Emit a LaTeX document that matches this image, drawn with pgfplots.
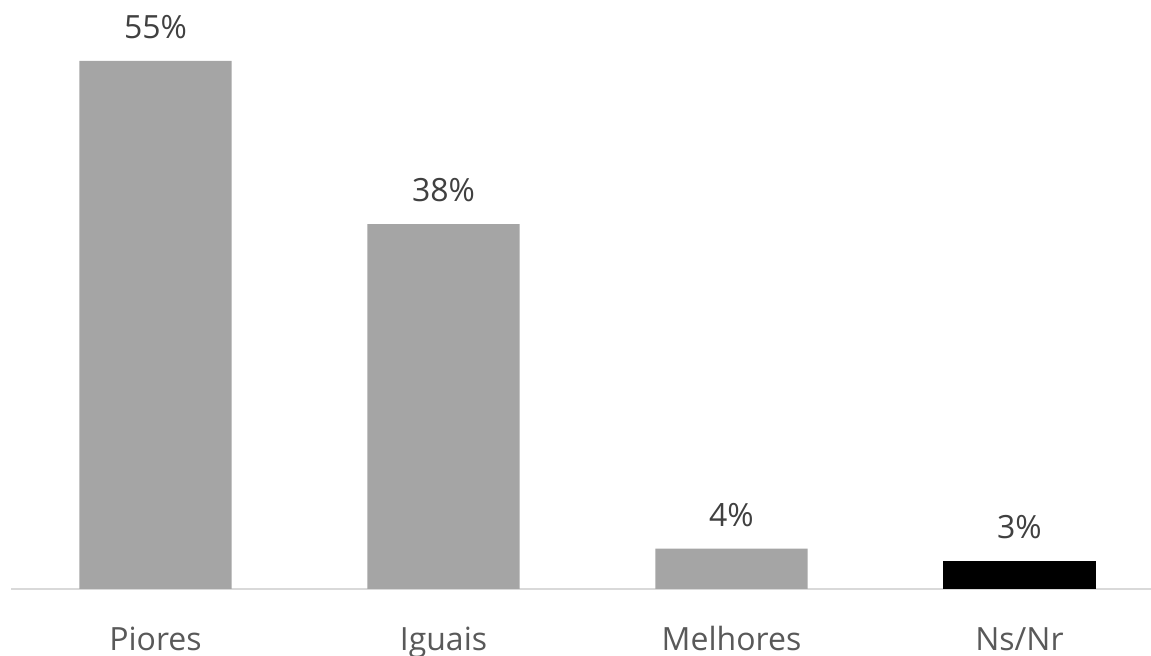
\documentclass[border=0pt]{standalone}
\usepackage{fontspec}
\setmainfont{Open Sans}
\usepackage{pgfplots}
\pgfplotsset{compat=1.18}
\definecolor{bargray}{HTML}{A5A5A5}
\definecolor{axisgray}{HTML}{D9D9D9}
\definecolor{valtext}{HTML}{404040}
\definecolor{cattext}{HTML}{595959}
\begin{document}
\begin{tikzpicture}[x=1pt,y=1pt]
\begin{axis}[
  scale only axis,
  width=575.5pt, height=294.5pt,
  xmin=-0.5399, xmax=3.4566,
  ymin=0, ymax=61.35,
  ybar, bar width=0.528, bar shift=0pt,
  axis line style={draw=none},
  ytick=\empty,
  xtick={0,1,2,3},
  xticklabels={Piores,Iguais,Melhores,Ns/Nr},
  major tick length=0pt,
  xticklabel style={anchor=base, yshift=-31pt, inner sep=0pt, text=cattext, font=\fontsize{16}{18}\selectfont},
  point meta=explicit symbolic,
  nodes near coords,
  nodes near coords style={anchor=base, yshift=11.3pt, inner sep=0pt, text=valtext, font=\fontsize{16}{18}\selectfont},
  clip=false,
]
\draw[axisgray, line width=1pt] (axis cs:-0.5017,0) -- (rel axis cs:1,0);
\addplot[fill=bargray, draw=none] coordinates {(0,55) [55\%] (1,38) [38\%] (2,4.2) [4\%]};
\addplot[fill=black, draw=none] coordinates {(3,2.9) [3\%]};
\coordinate (BL) at (rel axis cs:0,0);
\coordinate (TR) at (rel axis cs:1,1);
\end{axis}
\pgfresetboundingbox
\useasboundingbox ([yshift=-33.5pt]BL) rectangle (TR);
\end{tikzpicture}
\end{document}
